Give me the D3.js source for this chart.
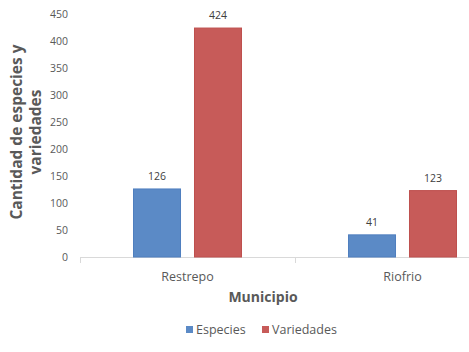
<!DOCTYPE html>
<html><head><meta charset="utf-8">
<script src="https://cdn.jsdelivr.net/npm/d3@7"></script>
<style>body{margin:0;background:#fff}svg{display:block;font-family:"Open Sans",sans-serif}</style>
</head><body><svg id="c" width="469" height="352"></svg>
<script>
const categories = ["Restrepo", "Riofrio"];
const seriesNames = ["Especies", "Variedades"];
const especies = [126, 41];
const variedades = [424, 123];
const yTicks = [0, 50, 100, 150, 200, 250, 300, 350, 400, 450];
const colors = ["#5B8AC6", "#C75B59"];
const strokes = ["#4F7FBF", "#BE504E"];

const svg = d3.select("#c");
const y = d3.scaleLinear().domain([0, 450]).range([257, 14]);
const x = d3.scaleBand().domain(categories).range([80, 510]).paddingInner(0);
const xs = d3.scaleBand().domain(seriesNames).range([53, 162]).paddingInner(0.213);
const fontCol = "#595959";

svg.append("g").selectAll("text").data(yTicks).join("text")
  .attr("x", 68).attr("y", d => y(d)).attr("dy", "0.35em")
  .attr("text-anchor", "end").attr("font-size", 10.5).attr("fill", fontCol)
  .text(d => d);

svg.append("line").attr("x1", 80).attr("x2", 469).attr("y1", y(0) + 0.5).attr("y2", y(0) + 0.5)
  .attr("stroke", "#d9d9d9").attr("stroke-width", 1);
[x(categories[0]), x(categories[1]), x(categories[1]) + x.bandwidth()].forEach(t => {
  svg.append("line").attr("x1", Math.round(t) + 0.5).attr("x2", Math.round(t) + 0.5)
    .attr("y1", y(0)).attr("y2", y(0) + 6).attr("stroke", "#d9d9d9");
});

const data = categories.map((c, i) => ({cat: c, vals: [especies[i], variedades[i]]}));
const g = svg.append("g").selectAll("g").data(data).join("g")
  .attr("transform", d => `translate(${x(d.cat)},0)`);
g.selectAll("rect").data(d => d.vals.map((v, j) => ({v, j}))).join("rect")
  .attr("x", d => xs(seriesNames[d.j]) + 0.5).attr("width", xs.bandwidth() - 1)
  .attr("y", d => y(d.v)).attr("height", d => y(0) - y(d.v))
  .attr("fill", d => colors[d.j]).attr("stroke", d => strokes[d.j]).attr("stroke-width", 1);
g.selectAll("text.v").data(d => d.vals.map((v, j) => ({v, j}))).join("text")
  .attr("class", "v")
  .attr("x", d => xs(seriesNames[d.j]) + xs.bandwidth() / 2).attr("y", d => y(d.v) - 9)
  .attr("text-anchor", "middle").attr("font-size", 10.5).attr("fill", "#404040")
  .text(d => d.v);

svg.append("g").selectAll("text").data(categories).join("text")
  .attr("x", d => x(d) + x.bandwidth() / 2).attr("y", 281)
  .attr("text-anchor", "middle").attr("font-size", 12.5).attr("fill", fontCol)
  .text(d => d);

svg.append("text").attr("x", 263).attr("y", 302).attr("text-anchor", "middle")
  .attr("font-size", 14).attr("font-weight", "bold").attr("fill", fontCol).text("Municipio");

const yt = svg.append("text").attr("transform", "translate(0,132) rotate(-90)")
  .attr("text-anchor", "middle").attr("font-size", 15.5).attr("font-weight", "bold").attr("fill", fontCol);
yt.append("tspan").attr("x", 0).attr("y", 22).text("Cantidad de especies y");
yt.append("tspan").attr("x", 0).attr("y", 41).text("variedades");

const legX = [186, 262];
seriesNames.forEach((s, i) => {
  svg.append("rect").attr("x", legX[i]).attr("y", 326).attr("width", 7).attr("height", 7).attr("fill", colors[i]);
  svg.append("text").attr("x", legX[i] + 10).attr("y", 334).attr("font-size", 12.5).attr("fill", fontCol).text(s);
});
</script></body></html>
